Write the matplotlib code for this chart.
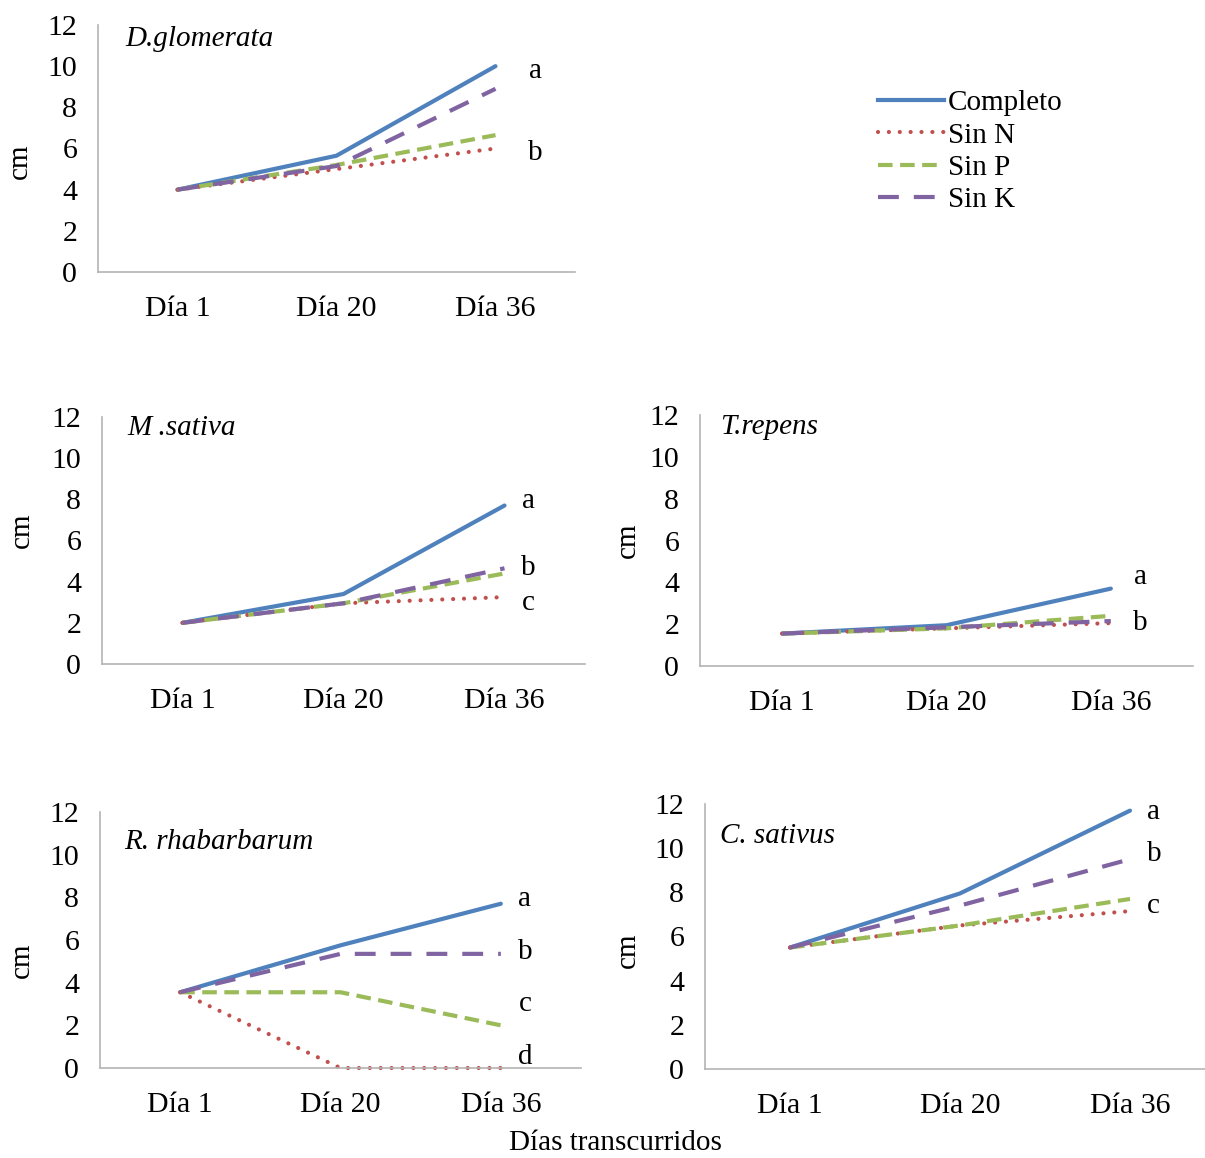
import matplotlib
matplotlib.use("Agg")
import matplotlib.pyplot as plt
from matplotlib.lines import Line2D

plt.rcParams['font.family'] = ['Liberation Serif', 'DejaVu Serif']

days = ["Día 1", "Día 20", "Día 36"]
series = ["Completo", "Sin N", "Sin P", "Sin K"]

species = ["D.glomerata", "M .sativa", "T.repens", "R. rhabarbarum", "C. sativus"]

dglo_completo = [4.0, 5.65, 10.0]
dglo_sin_n = [4.0, 5.0, 6.0]
dglo_sin_p = [4.0, 5.2, 6.65]
dglo_sin_k = [4.0, 5.15, 8.9]

msat_completo = [2.0, 3.4, 7.7]
msat_sin_n = [2.0, 2.95, 3.25]
msat_sin_p = [2.0, 2.95, 4.4]
msat_sin_k = [2.0, 2.95, 4.65]

trep_completo = [1.55, 1.95, 3.7]
trep_sin_n = [1.55, 1.8, 2.05]
trep_sin_p = [1.55, 1.8, 2.4]
trep_sin_k = [1.55, 1.85, 2.15]

rrha_completo = [3.55, 5.75, 7.7]
rrha_sin_n = [3.55, 0.0, 0.0]
rrha_sin_p = [3.55, 3.55, 2.0]
rrha_sin_k = [3.55, 5.35, 5.35]

csat_completo = [5.5, 7.95, 11.7]
csat_sin_n = [5.5, 6.5, 7.15]
csat_sin_p = [5.5, 6.5, 7.7]
csat_sin_k = [5.5, 7.4, 9.5]

data = [
    [dglo_completo, dglo_sin_n, dglo_sin_p, dglo_sin_k],
    [msat_completo, msat_sin_n, msat_sin_p, msat_sin_k],
    [trep_completo, trep_sin_n, trep_sin_p, trep_sin_k],
    [rrha_completo, rrha_sin_n, rrha_sin_p, rrha_sin_k],
    [csat_completo, csat_sin_n, csat_sin_p, csat_sin_k],
]

# significance letters: (letter, y)
letters = [
    [("a", 9.75), ("b", 5.8)],
    [("a", 7.9), ("b", 4.65), ("c", 2.95)],
    [("a", 4.25), ("b", 2.05)],
    [("a", 7.9), ("b", 5.45), ("c", 3.0), ("d", 0.5)],
    [("a", 11.65), ("b", 9.75), ("c", 7.4)],
]

colors = ["#4F81BD", "#C0504D", "#9BBB59", "#8064A2"]
styles = [
    dict(linestyle="-", lw=3.0),
    dict(linestyle=(0, (0.01, 2.6)), lw=3.0, dash_capstyle="round"),
    dict(linestyle=(0, (3.5, 1.8)), lw=3.0),
    dict(linestyle=(0, (5, 3.6)), lw=3.0),
]

W, H = 1205, 1158
# axes boxes in pixels: left, right, top(12), bottom(0)
boxes = [
    (98, 575, 25, 272),
    (102, 585, 417, 664),
    (700, 1193, 415, 666),
    (100, 581, 812, 1068),
    (705, 1215, 804, 1069),
]
letter_x = [2.75, 2.65, 2.68, 2.65, 2.64]
title_pos = [(0.17, 11.3), (0.16, 11.45), (0.12, 11.45), (0.15, 10.6), (0.09, 10.55)]
cm_pos = [(-0.164, 0.45), (-0.166, 0.54), (-0.146, 0.5), (-0.162, 0.42), (-0.151, 0.45)]

fig = plt.figure(figsize=(W / 100, H / 100), dpi=100)

for i, (l, r, t, b) in enumerate(boxes):
    ax = fig.add_axes([l / W, 1 - b / H, (r - l) / W, (b - t) / H])
    for j in range(4):
        ax.plot([0.5, 1.5, 2.5], data[i][j], color=colors[j], solid_capstyle="round",
                clip_on=False, **styles[j])
    ax.set_xlim(0, 3)
    ax.set_ylim(0, 12)
    ax.set_xticks([0.5, 1.5, 2.5])
    ax.set_xticklabels(days)
    ax.set_yticks(range(0, 13, 2))
    ax.tick_params(axis="both", length=0, labelsize=21.5)
    ax.tick_params(axis="y", pad=15)
    ax.tick_params(axis="x", pad=17)
    for s in ["top", "right"]:
        ax.spines[s].set_visible(False)
    for s in ["left", "bottom"]:
        ax.spines[s].set_color("#B4B4B4")
        ax.spines[s].set_linewidth(1.2)
    ax.text(title_pos[i][0], title_pos[i][1], species[i], fontsize=21, style="italic",
            ha="left", va="center")
    for let, y in letters[i]:
        ax.text(letter_x[i], y, let, fontsize=21, ha="center", va="center")
    ax.text(cm_pos[i][0], cm_pos[i][1], "cm", fontsize=21, rotation=90,
            ha="center", va="center", transform=ax.transAxes)

handles = [Line2D([], [], color=colors[j], **styles[j]) for j in range(4)]
fig.legend(handles, series, loc="upper left", bbox_to_anchor=(878 / W, 1 - 90 / H),
           frameon=False, fontsize=21, handlelength=2.25, handletextpad=0.15,
           labelspacing=0.2, borderpad=0, borderaxespad=0)

fig.text(615 / W, 1 - 1143 / H, "Días transcurridos", fontsize=21, ha="center", va="center")

fig.savefig("out.png", dpi=100)
